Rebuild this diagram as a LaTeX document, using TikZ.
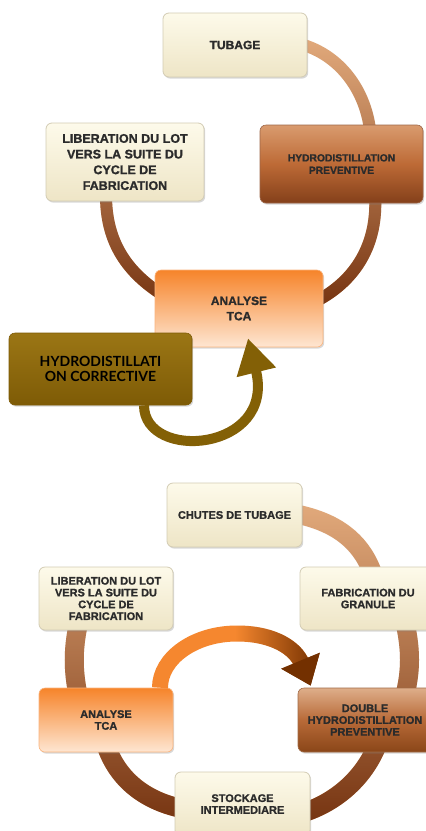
\documentclass[tikz,border=0pt]{standalone}
\usepackage{fontspec}
\setmainfont{Liberation Sans}[BoldFeatures={FakeBold=1.3}]
\newfontfamily\gillfont{Lato}
\usetikzlibrary{shadows,fadings,arrows.meta,calc}
\pgfdeclarelayer{paper}
\pgfdeclarelayer{ringlayer}
\pgfsetlayers{paper,ringlayer,main}

\definecolor{creamtop}{HTML}{FDFAEA}
\definecolor{creambot}{HTML}{EEE5C6}
\definecolor{creamline}{HTML}{D3CCB4}
\definecolor{browntop}{HTML}{D99B6E}
\definecolor{brownmid}{HTML}{BD6A36}
\definecolor{brownbot}{HTML}{84401A}
\definecolor{dbltop}{HTML}{DEAE8A}
\definecolor{dblmid}{HTML}{B86A38}
\definecolor{dblbot}{HTML}{8A4618}
\definecolor{orangetop}{HTML}{F6842A}
\definecolor{orangebot}{HTML}{FEE6D2}
\definecolor{olivetop}{HTML}{9B7615}
\definecolor{olivebot}{HTML}{7E5B06}
\definecolor{olivearr}{HTML}{836006}
\definecolor{ringlight}{HTML}{E2AA7C}
\definecolor{ringdark}{HTML}{773512}
\definecolor{arroworange}{HTML}{F5872F}
\definecolor{arrowbrown}{HTML}{733000}
\definecolor{txt}{HTML}{2B2B2B}

\tikzfading[name=fadedown, top color=transparent!100, bottom color=transparent!0]
\tikzfading[name=faderight, left color=transparent!100, right color=transparent!0, middle color=transparent!100]

\tikzset{
  box/.style={rounded corners=6pt, inner sep=0pt, align=center, text=txt,
    drop shadow={opacity=0.3, shadow xshift=1.2pt, shadow yshift=-1.6pt}},
  creambox/.style={box, top color=creamtop, bottom color=creambot, draw=creamline, line width=0.8pt},
  brownbox/.style={box, top color=browntop, bottom color=brownbot, middle color=brownmid, draw=brownbot!80, line width=0.6pt},
  dblbox/.style={box, top color=dbltop, bottom color=dblbot, middle color=dblmid, draw=dblbot!80, line width=0.6pt},
  orangebox/.style={box, top color=orangetop, bottom color=orangebot, draw=orangetop!60, line width=0.6pt},
  olivebox/.style={box, top color=olivetop, bottom color=olivebot, draw=olivebot, line width=0.6pt},
  topfont/.style={font=\fontsize{12}{15.3}\selectfont\bfseries},
  midfont/.style={font=\fontsize{10.3}{12.4}\selectfont\bfseries},
  botfont/.style={font=\fontsize{11}{11.8}\selectfont\bfseries},
  ringtop/.style={line width=12pt},
  ringbot/.style={line width=19pt},
}

\begin{document}
\begin{tikzpicture}[x=1pt, y=-1pt]
\begin{pgfonlayer}{paper}
\fill[white] (0,0) rectangle (426,831);
\end{pgfonlayer}
\useasboundingbox (0,0) rectangle (426,831);

% ---------------- top cycle ----------------
\node[creambox, topfont, minimum width=144pt, minimum height=64pt] (tubage) at (235,45) {TUBAGE};
\node[brownbox, midfont, minimum width=163pt, minimum height=78pt] (hydro) at (341.5,164) {HYDRODISTILLATION\\PREVENTIVE};
\node[creambox, font=\fontsize{12.5}{15.7}\selectfont\bfseries, minimum width=158pt, minimum height=78pt] (lib) at (125,162) {LIBERATION DU LOT\\VERS LA SUITE DU\\CYCLE DE\\FABRICATION};
\node[orangebox, topfont, minimum width=168pt, minimum height=77pt] (analyse) at (239,308.5) {ANALYSE\\TCA};
\node[olivebox, font=\gillfont\fontsize{14}{15.7}\selectfont\bfseries, text=black, minimum width=183pt, minimum height=72pt] (corr) at (100.5,369) {HYDRODISTILLATI\\ON CORRECTIVE};

% ---------------- bottom cycle ----------------
\node[creambox, botfont, minimum width=135pt, minimum height=64pt] (chutes) at (234.5,515) {CHUTES DE TUBAGE};
\node[creambox, botfont, minimum width=136pt, minimum height=63pt] (fab) at (368,598.5) {FABRICATION DU\\GRANULE};
\node[creambox, botfont, minimum width=134pt, minimum height=63pt] (lib2) at (106,598.5) {LIBERATION DU LOT\\VERS LA SUITE DU\\CYCLE DE\\FABRICATION};
\node[orangebox, botfont, minimum width=134pt, minimum height=64pt] (analyse2) at (106,720) {ANALYSE\\TCA};
\node[dblbox, botfont, minimum width=134pt, minimum height=64pt] (double) at (365,720) {DOUBLE\\HYDRODISTILLATION\\PREVENTIVE};
\node[creambox, botfont, minimum width=135pt, minimum height=64pt] (stock) at (242.5,804) {STOCKAGE\\INTERMEDIARE};

% ---------------- rings (behind the boxes) ----------------
\begin{pgfonlayer}{ringlayer}
  \def\topring{
    ($(tubage.east)+(-7,-1)$) .. controls (340,55) and (365,90) .. ($(hydro.north)+(28.5,5)$)
    ($(hydro.south)+(33.5,-8)$) .. controls (378,245) and (355,280) .. ($(analyse.east)+(-5,-8.5)$)
    ($(analyse.west)+(5,-15.5)$) .. controls (125,270) and (106,240) .. ($(lib.south)+(-19,-6)$)}
  \draw[ringtop, ringlight] \topring;
  \draw[ringtop, ringdark, path fading=fadedown] \topring;
  \def\botring{
    ($(chutes.east)+(-6,-1)$) .. controls (335,522) and (360,540) .. ($(fab.north)+(4,5)$)
    ($(fab.south)+(37,-8)$) .. controls (411,650) and (411,670) .. ($(double.north)+(40,7)$)
    ($(double.south)+(12,-7)$) .. controls (365,775) and (340,800) .. ($(stock.east)+(-5,8)$)
    ($(stock.west)+(5,4)$) .. controls (145,800) and (118,780) .. ($(analyse2.south)+(0,-7)$)
    ($(analyse2.north)+(-28,7)$) .. controls (73,670) and (73,650) .. ($(lib2.south)+(-28,-5)$)}
  \draw[ringbot, ringlight] \botring;
  \draw[ringbot, ringdark, path fading=fadedown] \botring;
\end{pgfonlayer}

% ---------------- arrows ----------------
\draw[olivearr, line width=10pt, -{Triangle[length=35pt, width=38pt]}]
  ($(corr.south)+(43.5,0)$) .. controls (144,462) and (276,452) .. ($(analyse.south)+(9,-9)$);

\def\orarrow{($(analyse2.north)+(54,0)$) .. controls (160,658) and (194.5,633.5) .. (237,633.5)
  .. controls (276,633.5) and (296,650) .. ($(double.north west)+(13,-2)$)}
\draw[arroworange, line width=16pt, -{Triangle[length=27pt, width=40pt, color=arrowbrown]}] \orarrow;
\draw[arrowbrown, line width=16pt, path fading=faderight, -{Triangle[length=27pt, width=40pt]}] \orarrow;
\end{tikzpicture}
\end{document}
